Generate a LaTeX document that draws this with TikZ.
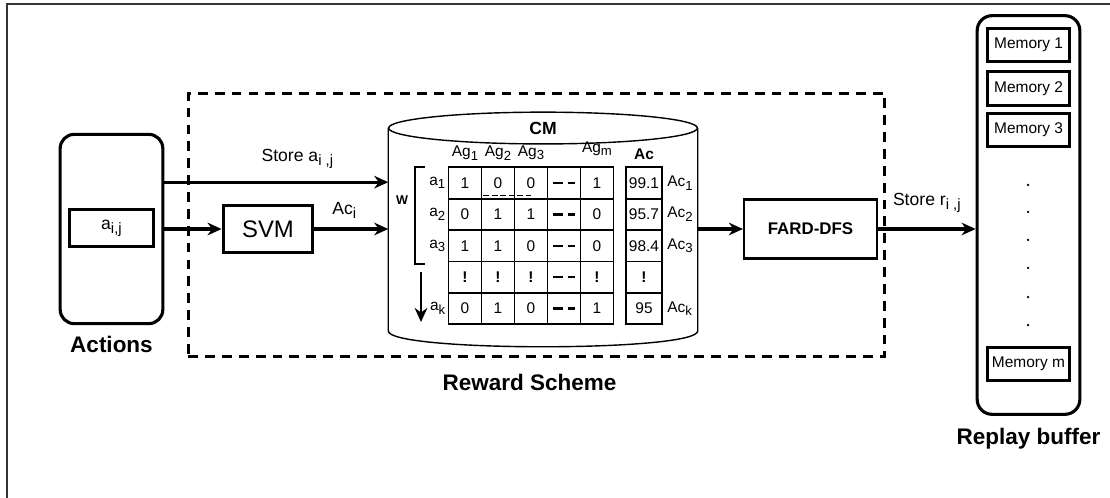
\documentclass[tikz,border=0pt]{standalone}
\usepackage{fontspec}
\setmainfont{Liberation Sans}
\usetikzlibrary{positioning}
\usetikzlibrary{arrows.meta}
\newcommand{\hfont}{\fontsize{16}{19}\selectfont\bfseries}
\newcommand{\lfont}{\fontsize{12.5}{15}\selectfont}
\newcommand{\tfont}{\fontsize{11}{13}\selectfont}
\newcommand{\sub}[1]{\raisebox{-0.45ex}{\scalebox{0.85}{#1}}}
\newcommand{\dsh}{\rule{7pt}{1.8pt}\hspace{3pt}\rule{5pt}{1.8pt}}
\newcommand{\exm}{\textbf{!}}
\tikzset{
    arr/.style={line width=2.3pt,-{Stealth[length=10pt,width=9pt]}},
    box/.style={draw,line width=2.2pt,inner sep=0pt},
    cell/.style={draw,line width=1.3pt,minimum width=23.4pt,minimum height=22.3pt,
        inner sep=0pt,font=\tfont},
    mem/.style={draw,line width=2.2pt,minimum width=58.8pt,minimum height=24pt,
        inner sep=0pt,font=\fontsize{11}{12}\selectfont},
}

\begin{document}
\begin{tikzpicture}[x=0.025cm,y=-0.025cm]
    \useasboundingbox (0,0) rectangle (1110,498);
    \draw[line width=1pt,black!80] (7,498) -- (7,4) -- (1110,4);

    % actions
    \node[box,rounded corners=10pt,minimum width=73pt,minimum height=134.6pt,
        label={[font=\hfont,label distance=4pt]below:Actions}] (act) at (111.5,229) {};
    \node[box,line width=2pt,minimum width=60pt,minimum height=26pt,font=\lfont] (aij) at (111.5,228) {a\sub{i,j}};

    % reward scheme
    \node[draw,line width=2pt,dash pattern=on 7pt off 5pt,minimum width=495.4pt,
        minimum height=187.1pt,
        label={[font=\hfont,label distance=8pt,xshift=-5pt]below:Reward Scheme}] (rs) at (536.5,225) {};
    \node[box,minimum width=63.8pt,minimum height=34pt,font=\fontsize{17}{20}\selectfont] (svm) at (268,229) {SVM};
    \node[box,line width=1.8pt,minimum width=94.3pt,minimum height=41.8pt,
        font=\fontsize{12}{14}\selectfont\bfseries] (fard) at (810.5,229) {FARD-DFS};

    % CM cylinder
    \node[minimum width=219.7pt,minimum height=143.9pt,inner sep=0pt] (cm) at (543,229.5) {};
    \draw[line width=1pt,fill=white] (cm.north west) -- (cm.south west)
        .. controls ([yshift=-15pt]cm.south west) and ([yshift=-15pt]cm.south east) .. (cm.south east)
        -- (cm.north east);
    \draw[line width=1pt,fill=white] (cm.north) ellipse [x radius=109.8pt, y radius=11.3pt];
    \node[font=\fontsize{12.5}{14}\selectfont\bfseries] (cmt) at (cm.north) {CM};

    \foreach \acc/\va/\vb/\vc/\vd [count=\r, evaluate=\r as \ry using {183+31.4*(\r-1)}] in
        {99.1/1/0/0/1, 95.7/0/1/1/0, 98.4/1/1/0/0, \exm/\exm/\exm/\exm/\exm, 95/0/1/0/1}{%
        \foreach \v [count=\c, evaluate=\c as \cx using {465+33*(\c-1)}] in {\va,\vb,\vc,\dsh,\vd}{
            \node[cell] (c\r\c) at (\cx,\ry) {\v};
        }
        \node[cell,minimum width=25.5pt] (ac\r) at (644,\ry) {\acc};
    }
    \foreach \r/\s in {1/1,2/2,3/3,5/k}{
        \node[font=\tfont,anchor=east,inner sep=1pt] (rl\r) at ([xshift=-0.5pt]c\r1.west) {a\sub{\s}};
        \node[font=\tfont,anchor=west,inner sep=1pt] (al\r) at ([xshift=2pt]ac\r.east) {Ac\sub{\s}};
    }
    \foreach \s [count=\c] in {1,2,3}{
        \node[font=\tfont,above=1pt of c1\c] (ag\c) {Ag\sub{\s}};
    }
    \node[font=\tfont,above=4pt of c15] (agm) {Ag\sub{m}};
    \node[font=\tfont\bfseries,above=1pt of ac1] (achd) {Ac};
    \draw[line width=0.8pt,dash pattern=on 4pt off 2pt]
        ([xshift=2pt,yshift=3pt]c12.south west) -- ([yshift=3pt]c13.south);

    % W bracket
    \draw[line width=1.5pt] (425,167) -- (415,167) -- (415,264) -- (425,264);
    \node[font=\fontsize{9}{10}\selectfont\bfseries] (w) at (402,200) {W};
    \coordinate (kt) at (421,272);
    \coordinate (kb) at (421,322);
    \draw[arr,line width=1.5pt] (kt) -- (kb);

    % replay buffer
    \node[box,rounded corners=10.6pt,minimum width=73pt,minimum height=283.5pt,
        label={[font=\hfont,label distance=5pt]below:Replay buffer}] (buf) at (1028.5,215) {};
    \foreach \y/\s [count=\n] in {45/1,88.5/2,130/3,364/m}{
        \node[mem] (m\n) at (1028.5,\y) {Memory \s};
    }
    \foreach \y in {185,212,240,268,297,325}
        \fill (1028,\y) circle (0.9pt);

    % connectors
    \draw[arr] ([yshift=33.3pt]act.east) -- ([yshift=33.3pt]act.east -| cm.west)
        node[midway,above=5pt,xshift=15pt,font=\lfont] {Store a\sub{i ,j}};
    \draw[arr] (act.east) -- (svm.west);
    \draw[arr] (svm.east) -- (svm.east -| cm.west)
        node[midway,above=3pt,xshift=-5pt,font=\lfont] {Ac\sub{i}};
    \draw[arr] (cm.east |- fard.west) -- (fard.west);
    \draw[arr] (fard.east) -- (fard.east -| buf.west)
        node[midway,above=7pt,font=\lfont] {Store r\sub{i ,j}};
\end{tikzpicture}
\end{document}
